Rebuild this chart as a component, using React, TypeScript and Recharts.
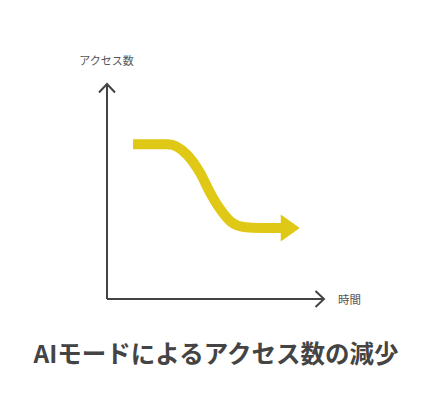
import { LineChart, Line, XAxis, YAxis } from 'recharts';

// values (time 0-100, access 0-100)
const timeSteps = [12, 28, 37, 43, 47.5, 52, 57, 63, 70.5, 81];
const accessValues = [72, 72, 67, 58.5, 49.5, 42, 36, 33.5, 33, 33];

const xAxisLabel = '時間';
const yAxisLabel = 'アクセス数';
const chartTitle = 'AIモードによるアクセス数の減少';

const data = timeSteps.map((t, i) => ({ t, access: accessValues[i] }));

const AXIS_COLOR = '#444444';
const LINE_COLOR = '#e0c916';
const FONT = '"Noto Sans CJK JP", "Noto Sans", sans-serif';

export default function App() {
  return (
    <div style={{ position: 'absolute', left: 0, top: 0, width: 432, height: 420, background: '#fff', fontFamily: FONT }}>
      <svg width={0} height={0} style={{ position: 'absolute' }}>
        <defs>
          <marker id="axisArrow" markerUnits="userSpaceOnUse" viewBox="-14 -14 28 28"
            markerWidth={28} markerHeight={28} refX={0} refY={0} orient="auto-start-reverse">
            <path d="M -8.5 -8 L 0 0 L -8.5 8" fill="none" stroke={AXIS_COLOR} strokeWidth={2} />
          </marker>
          <marker id="lineArrow" markerUnits="userSpaceOnUse" viewBox="-4 -16 24 32"
            markerWidth={24} markerHeight={32} refX={0} refY={0} orient="auto">
            <path d="M -2 -13.5 L 17 0 L -2 13.5 Z" fill={LINE_COLOR} />
          </marker>
        </defs>
      </svg>
      <LineChart width={432} height={320} data={data}
        margin={{ top: 84, right: 108, bottom: 20, left: 106 }}>
        <XAxis
          type="number"
          dataKey="t"
          domain={[0, 100]}
          height={1}
          tick={false}
          tickLine={false}
          axisLine={{ stroke: AXIS_COLOR, strokeWidth: 2, markerEnd: 'url(#axisArrow)' }}
          label={{ value: xAxisLabel, position: 'right', offset: 14, fill: '#555', fontSize: 11.5, fontFamily: FONT }}
        />
        <YAxis
          type="number"
          domain={[0, 100]}
          width={1}
          tick={false}
          tickLine={false}
          axisLine={{ stroke: AXIS_COLOR, strokeWidth: 2, markerStart: 'url(#axisArrow)' }}
          label={{ value: yAxisLabel, position: 'top', offset: 19, fill: '#555', fontSize: 11, fontFamily: FONT }}
        />
        <Line
          type="monotone"
          dataKey="access"
          stroke={LINE_COLOR}
          strokeWidth={10}
          dot={false}
          activeDot={false}
          markerEnd="url(#lineArrow)"
          isAnimationActive={false}
        />
      </LineChart>
      <div style={{ position: 'absolute', left: 0, top: 338, width: 432, textAlign: 'center', fontSize: 24.5, lineHeight: '30px', fontWeight: 700, color: '#444' }}>
        {chartTitle}
      </div>
    </div>
  );
}
